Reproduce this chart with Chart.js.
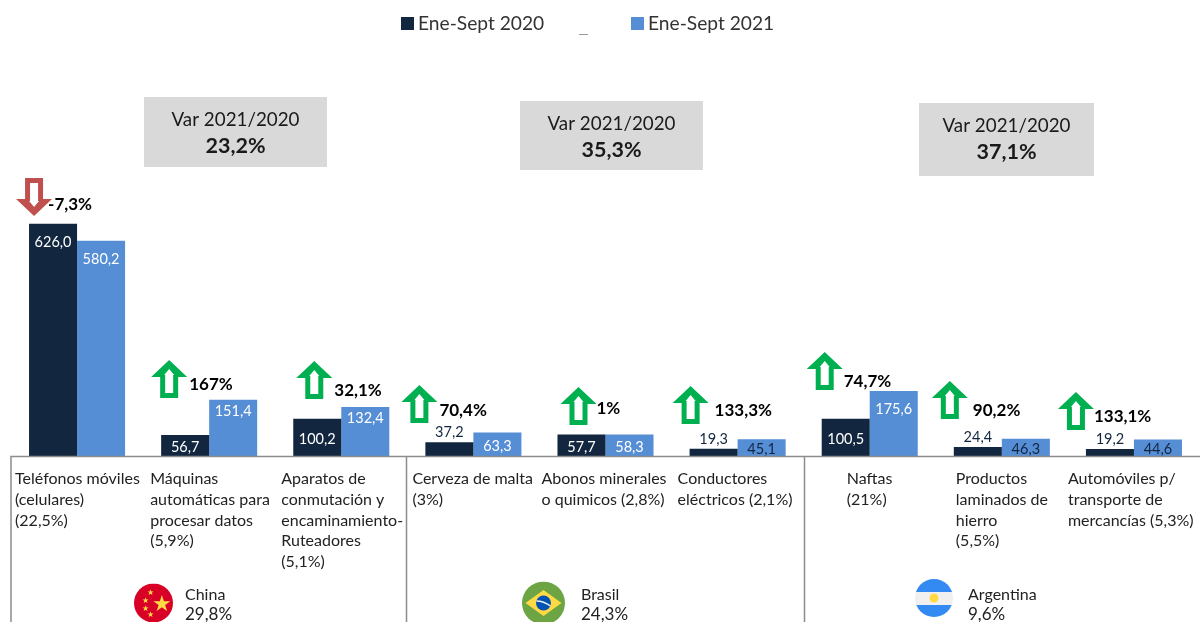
<!DOCTYPE html>
<html>
<head>
<meta charset="utf-8">
<script src="https://cdn.jsdelivr.net/npm/chart.js@4"></script>
<style>
  html, body { margin: 0; padding: 0; background: #fff; }
  #wrap { position: relative; width: 1200px; height: 622px; overflow: hidden; }
</style>
</head>
<body>
<div id="wrap"><canvas id="chart" width="1200" height="622"></canvas></div>
<script>
const categories = [
    ['Teléfonos móviles', '(celulares)', '(22,5%)'],
    ['Máquinas', 'automáticas para', 'procesar datos', '(5,9%)'],
    ['Aparatos de', 'conmutación y', 'encaminamiento-', 'Ruteadores', '(5,1%)'],
    ['Cerveza de malta', '(3%)'],
    ['Abonos minerales', 'o quimicos (2,8%)'],
    ['Conductores', 'eléctricos (2,1%)'],
    ['Naftas', '(21%)'],
    ['Productos', 'laminados de', 'hierro', '(5,5%)'],
    ['Automóviles p/', 'transporte de', 'mercancías (5,3%)'],
];
const valores2020 = [626.0, 56.7, 100.2, 37.2, 57.7, 19.3, 100.5, 24.4, 19.2];
const valores2021 = [580.2, 151.4, 132.4, 63.3, 58.3, 45.1, 175.6, 46.3, 44.6];
const variaciones = ['-7,3%', '167%', '32,1%', '70,4%', '1%', '133,3%', '74,7%', '90,2%', '133,1%'];
const paises = ['China', 'Brasil', 'Argentina'];
const participacion = ['29,8%', '24,3%', '9,6%'];
const varPaises = ['23,2%', '35,3%', '37,1%'];

const azulOscuro = '#12263F';
const azulClaro = '#558ED5';
const verde = '#00B050';
const rojo = '#C0504D';
const gris = '#8C8C8C';
const texto = '#1a1a1a';
const fuente = 'Lato, "Open Sans", sans-serif';

// ajustes a mano, cada uno relativo al centro de su categoria
const labelOffset = [-62, -59, -60, -61, -64, -60, -23, -46, -66];
const flechaX = [-43, -40, -27, -54, -27, -47, -45, -52, -58];
const flechaY = [178, 360, 361, 385, 387, 386, 352, 381, 392];
const pctX = [-29, -20, -7, -34, -9, -23, -26, -29, -40];
const pctY = [205, 385, 391, 411, 409, 411, 382, 411, 417];
const cajas = [
    { x: 144, y: 97, w: 183, h: 70 },
    { x: 520, y: 101, w: 183, h: 69 },
    { x: 919, y: 103, w: 175, h: 73 },
];
const paisPos = [
    { x: 153.5, y: 603, r: 19.5, tx: 185 },
    { x: 543.5, y: 603, r: 21.5, tx: 581 },
    { x: 934, y: 598, r: 19, tx: 968 },
];

function dibujarFlecha(ctx, cx, top, abajo) {
    const h = 38;
    const dir = abajo ? -1 : 1;
    const y0 = abajo ? top + h : top;
    const py = (d) => y0 + dir * d;

    ctx.fillStyle = abajo ? rojo : verde;
    ctx.beginPath();
    ctx.moveTo(cx, py(0));
    ctx.lineTo(cx + 18, py(17));
    ctx.lineTo(cx + 9, py(17));
    ctx.lineTo(cx + 9, py(h));
    ctx.lineTo(cx - 9, py(h));
    ctx.lineTo(cx - 9, py(17));
    ctx.lineTo(cx - 18, py(17));
    ctx.closePath();
    ctx.fill();

    ctx.fillStyle = '#fff';
    ctx.beginPath();
    ctx.moveTo(cx, py(9));
    ctx.lineTo(cx + 5, py(15));
    ctx.lineTo(cx + 4, py(15));
    ctx.lineTo(cx + 4, py(h - 5));
    ctx.lineTo(cx - 4, py(h - 5));
    ctx.lineTo(cx - 4, py(15));
    ctx.lineTo(cx - 5, py(15));
    ctx.closePath();
    ctx.fill();
}

function dibujarBandera(ctx, i) {
    const { x, y, r } = paisPos[i];
    ctx.save();
    ctx.beginPath();
    ctx.arc(x, y, r, 0, Math.PI * 2);
    ctx.clip();
    if (i === 0) {
        ctx.fillStyle = '#D80027';
        ctx.fillRect(x - r, y - r, r * 2, r * 2);
        ctx.fillStyle = '#FFDA44';
        ctx.font = `22px ${fuente}`;
        ctx.textAlign = 'center';
        ctx.textBaseline = 'middle';
        ctx.fillText('★', x + 8, y + 1);
        ctx.font = `8px ${fuente}`;
        ctx.fillText('★', x - 3, y - 11);
        ctx.fillText('★', x - 8, y - 3);
        ctx.fillText('★', x - 8, y + 5);
        ctx.fillText('★', x - 3, y + 11);
    } else if (i === 1) {
        ctx.fillStyle = '#6DA544';
        ctx.fillRect(x - r, y - r, r * 2, r * 2);
        ctx.fillStyle = '#FFDA44';
        ctx.beginPath();
        ctx.moveTo(x, y - 13);
        ctx.lineTo(x + 18, y);
        ctx.lineTo(x, y + 13);
        ctx.lineTo(x - 18, y);
        ctx.closePath();
        ctx.fill();
        ctx.fillStyle = '#0052B4';
        ctx.beginPath();
        ctx.arc(x, y, 7.5, 0, Math.PI * 2);
        ctx.fill();
        ctx.strokeStyle = '#F0F0F0';
        ctx.lineWidth = 1.5;
        ctx.beginPath();
        ctx.moveTo(x - 7, y - 2);
        ctx.quadraticCurveTo(x, y - 2, x + 7, y + 3);
        ctx.stroke();
    } else {
        ctx.fillStyle = '#F0F0F0';
        ctx.fillRect(x - r, y - r, r * 2, r * 2);
        ctx.fillStyle = '#338AF3';
        ctx.fillRect(x - r, y - r, r * 2, r - 6);
        ctx.fillRect(x - r, y + 7, r * 2, r - 6);
        ctx.fillStyle = '#FFDA44';
        ctx.beginPath();
        ctx.arc(x, y, 4.5, 0, Math.PI * 2);
        ctx.fill();
    }
    ctx.restore();
}

// etiquetas de valor sobre o dentro de las barras
const etiquetasBarras = {
    id: 'etiquetasBarras',
    afterDatasetsDraw(chart) {
        const { ctx } = chart;
        const base = chart.scales.y.getPixelForValue(0);
        ctx.save();
        ctx.font = `14.5px ${fuente}`;
        ctx.textAlign = 'center';
        ctx.textBaseline = 'middle';
        chart.data.datasets.forEach((ds, d) => {
            chart.getDatasetMeta(d).data.forEach((bar, i) => {
                const v = ds.data[i];
                let y;
                if (v < 30 || (d === 0 && v < 40)) {
                    // barra muy baja: va encima
                    y = bar.y - 10;
                    ctx.fillStyle = azulOscuro;
                } else if (v < 110) {
                    y = (bar.y + base) / 2 + 2;
                    ctx.fillStyle = v < 50 ? azulOscuro : '#fff';
                } else {
                    y = bar.y + (v > 170 ? 18 : 11);
                    ctx.fillStyle = '#fff';
                }
                ctx.fillText(v.toFixed(1).replace('.', ','), bar.x, y);
            });
        });
        ctx.restore();
    },
};

// marco, nombres, flechas y cajas de variacion
const anotaciones = {
    id: 'anotaciones',
    afterDraw(chart) {
        const { ctx } = chart;
        const x = chart.scales.x;
        const base = chart.scales.y.getPixelForValue(0);

        ctx.save();
        ctx.strokeStyle = gris;
        ctx.lineWidth = 1.5;
        ctx.beginPath();
        ctx.moveTo(11, 622);
        ctx.lineTo(11, base + 0.5);
        ctx.lineTo(1200, base + 0.5);
        [406.5, 804.5].forEach((px) => {
            ctx.moveTo(px, base + 0.5);
            ctx.lineTo(px, 622);
        });
        ctx.stroke();

        // leyenda
        ctx.textBaseline = 'middle';
        ctx.textAlign = 'left';
        ctx.font = `19.2px ${fuente}`;
        [401, 631].forEach((px, d) => {
            const ds = chart.data.datasets[d];
            ctx.fillStyle = ds.backgroundColor;
            ctx.fillRect(px, 17, 13, 13);
            ctx.fillStyle = '#333';
            ctx.fillText(ds.label, px + 17, 24);
        });
        ctx.fillStyle = '#999';
        ctx.fillRect(579, 34, 9, 1);

        // cajas
        cajas.forEach((c, i) => {
            ctx.fillStyle = '#D9D9D9';
            ctx.fillRect(c.x, c.y, c.w, c.h);
            ctx.fillStyle = texto;
            ctx.textAlign = 'center';
            ctx.font = `18.8px ${fuente}`;
            ctx.fillText('Var 2021/2020', c.x + c.w / 2, c.y + 23);
            ctx.font = `bold 21.5px ${fuente}`;
            ctx.fillText(varPaises[i], c.x + c.w / 2, c.y + 49);
        });

        // nombres de categoria
        ctx.textAlign = 'left';
        ctx.fillStyle = '#222';
        ctx.font = `16px ${fuente}`;
        categories.forEach((lineas, i) => {
            const px = x.getPixelForValue(i) + labelOffset[i];
            lineas.forEach((l, j) => ctx.fillText(l, px, 479 + j * 20.7));
        });

        // flechas y variaciones
        variaciones.forEach((pct, i) => {
            const cx = x.getPixelForValue(i);
            dibujarFlecha(ctx, cx + flechaX[i], flechaY[i], pct.startsWith('-'));
            ctx.fillStyle = '#000';
            ctx.font = `bold 17px ${fuente}`;
            ctx.textAlign = 'left';
            ctx.fillText(pct, cx + pctX[i], pctY[i]);
        });

        // paises
        paises.forEach((p, i) => {
            dibujarBandera(ctx, i);
            ctx.fillStyle = '#222';
            ctx.font = `16px ${fuente}`;
            ctx.textAlign = 'left';
            ctx.fillText(p, paisPos[i].tx, 595);
            ctx.font = `17px ${fuente}`;
            ctx.fillText(participacion[i], paisPos[i].tx, 615);
        });
        ctx.restore();
    },
};

new Chart(document.getElementById('chart'), {
    type: 'bar',
    data: {
        labels: categories,
        datasets: [
            { label: 'Ene-Sept 2020', data: valores2020, backgroundColor: azulOscuro },
            { label: 'Ene-Sept 2021', data: valores2021, backgroundColor: azulClaro },
        ],
    },
    options: {
        responsive: false,
        animation: false,
        layout: { padding: { left: 11, top: 11, bottom: 166, right: 0 } },
        plugins: { legend: { display: false }, tooltip: { enabled: false } },
        datasets: { bar: { barPercentage: 1, categoryPercentage: 0.727 } },
        scales: {
            x: { display: false },
            y: { display: false, min: 0, max: 1200 },
        },
    },
    plugins: [etiquetasBarras, anotaciones],
});
</script>
</body>
</html>
